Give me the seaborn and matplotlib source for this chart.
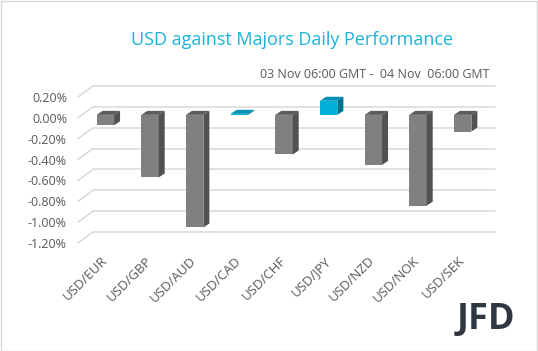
import matplotlib
matplotlib.use("Agg")
import matplotlib.pyplot as plt
from matplotlib.patches import Polygon, Rectangle
import seaborn as sns
import pandas as pd

# data (daily change, %)
pairs = ["USD/EUR", "USD/GBP", "USD/AUD", "USD/CAD", "USD/CHF",
         "USD/JPY", "USD/NZD", "USD/NOK", "USD/SEK"]
changes = [-0.10, -0.60, -1.08, 0.01, -0.38, 0.135, -0.48, -0.87, -0.16]
y_ticks = [0.2, 0.0, -0.2, -0.4, -0.6, -0.8, -1.0, -1.2]

title = "USD against Majors Daily Performance"
subtitle = "03 Nov 06:00 GMT -  04 Nov  06:00 GMT"

# colours: front / top / side faces
pos_cols = ("#00b0d8", "#0092b5", "#00728e")
neg_cols = ("#808080", "#5c5c5c", "#515151")

df = pd.DataFrame({"pair": pairs, "change": changes})

sns.set_style("white")
plt.rcParams["font.family"] = ["Open Sans", "DejaVu Sans"]

W, H = 538, 351
fig = plt.figure(figsize=(W / 100, H / 100), dpi=100)
ax_l, ax_r, ax_t, ax_b = 78, 480, 97, 243  # front plane in pixels
ax = fig.add_axes([ax_l / W, 1 - ax_b / H, (ax_r - ax_l) / W, (ax_b - ax_t) / H])

bar_w = 0.39
sns.barplot(data=df, x="pair", y="change", hue="pair",
            palette=[pos_cols[0] if v > 0 else neg_cols[0] for v in changes],
            width=bar_w, legend=False, ax=ax, saturation=1, zorder=3)

xmin, xmax, ymin, ymax = -0.5, len(pairs) - 0.5, -1.2, 0.2
ax.set_xlim(xmin, xmax)
ax.set_ylim(ymin, ymax)

# pixel -> data helpers for the fake 3d depth
px_x = (xmax - xmin) / (ax_r - ax_l)
px_y = (ymax - ymin) / (ax_b - ax_t)

# back wall gridlines + little diagonals on the left
wall_dx, wall_dy = 15 * px_x, 11 * px_y
for t in y_ticks:
    ax.plot([xmin + wall_dx, xmax + wall_dx], [t + wall_dy, t + wall_dy],
            color="#d9d9d9", lw=1.1, clip_on=False, zorder=1)
    ax.plot([xmin, xmin + wall_dx], [t, t + wall_dy],
            color="#d9d9d9", lw=1.1, clip_on=False, zorder=1)

# shift bars to mid depth and add side/top faces
bar_dx, bar_dy = 5 * px_x, 3 * px_y
side_dx, side_dy = 6 * px_x, 4 * px_y
for patch, v in zip(ax.patches, changes):
    patch.set_x(patch.get_x() + bar_dx)
    patch.set_y(patch.get_y() + bar_dy)
    patch.set_edgecolor("none")
    cols = pos_cols if v > 0 else neg_cols
    x0 = patch.get_x()
    x1 = x0 + patch.get_width()
    top = max(v, 0) + bar_dy
    bot = min(v, 0) + bar_dy
    ax.add_patch(Polygon([(x0, top), (x1, top), (x1 + side_dx, top + side_dy),
                          (x0 + side_dx, top + side_dy)],
                         closed=True, fc=cols[1], ec="none", zorder=3, clip_on=False))
    ax.add_patch(Polygon([(x1, bot), (x1, top), (x1 + side_dx, top + side_dy),
                          (x1 + side_dx, bot + side_dy)],
                         closed=True, fc=cols[2], ec="none", zorder=3, clip_on=False))

ax.set_yticks(y_ticks)
ax.set_yticklabels([f"{t:.2f}%" for t in y_ticks], fontsize=9, color="#595959")
ax.set_xticks(range(len(pairs)))
ax.set_xticklabels(pairs, rotation=45, ha="right", rotation_mode="anchor",
                   fontsize=9.5, color="#595959")
ax.tick_params(axis="both", length=0, pad=8)
ax.set_xlabel("")
ax.set_ylabel("")
for s in ax.spines.values():
    s.set_visible(False)
ax.patch.set_alpha(0)

fig.text(292 / W, 1 - 40 / H, title, ha="center", va="center",
         fontsize=13, color="#1ab3dc")
fig.text(490 / W, 1 - 74 / H, subtitle, ha="right", va="center",
         fontsize=9, color="#595959")
fig.text(486 / W, 1 - 320 / H, "JFD", ha="center", va="center",
         fontsize=26, fontweight="bold", color="#2e3742")

fig.add_artist(Rectangle((0.5 / W, 0.5 / H), 1 - 1.5 / W, 1 - 1.5 / H,
                         transform=fig.transFigure, fill=False,
                         ec="#d9d9d9", lw=1))

fig.savefig("out.png", dpi=100)
